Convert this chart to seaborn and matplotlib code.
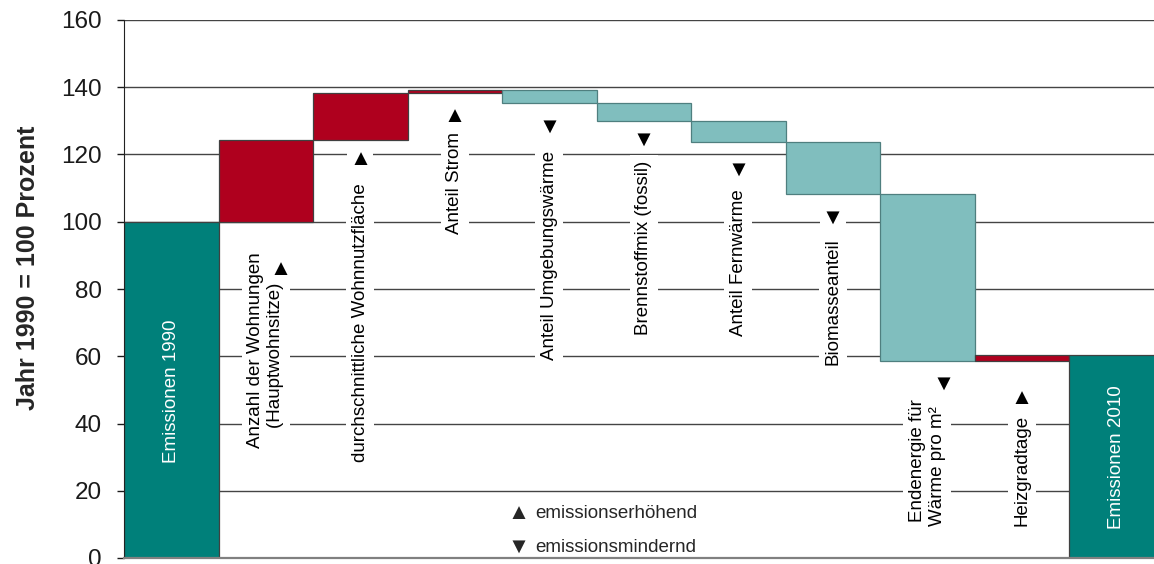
import numpy as np
import pandas as pd
import matplotlib
matplotlib.use("Agg")
import matplotlib.pyplot as plt
import seaborn as sns

# data (index: Jahr 1990 = 100)
categories = ["Emissionen 1990", "Anzahl der Wohnungen", "durchschnittliche Wohnnutzfläche",
              "Anteil Strom", "Anteil Umgebungswärme", "Brennstoffmix (fossil)",
              "Anteil Fernwärme", "Biomasseanteil", "Endenergie für Wärme pro m²",
              "Heizgradtage", "Emissionen 2010"]
bottoms = [0, 100, 124.3, 138.3, 135.4, 130.0, 123.7, 108.3, 58.6, 58.6, 0]
tops = [100, 124.3, 138.3, 139.3, 139.3, 135.4, 130.0, 123.7, 108.3, 60.4, 60.4]
kinds = ["total", "up", "up", "up", "down", "down", "down", "down", "down", "up", "total"]

# rotated labels inside the columns
label_texts = ["Emissionen 1990", "Anzahl der Wohnungen\n(Hauptwohnsitze)  ",
               "durchschnittliche Wohnnutzfläche", "Anteil Strom", "Anteil Umgebungswärme",
               "Brennstoffmix (fossil)", "Anteil Fernwärme", "Biomasseanteil",
               "Endenergie für\nWärme pro m²  ", "Heizgradtage", "Emissionen 2010"]
label_y = [49.7, 61.9, 70.0, 111.5, 90.1, 92.2, 87.7, 76.1, 29.0, 25.9, 30.0]
arrow_x = [None, 1.16, 2.0, 3.0, 4.0, 5.0, 6.0, 7.0, 8.17, 9.0, None]
arrow_y = [None, 85.9, 118.6, 131.4, 128.0, 124.4, 115.2, 101.2, 51.6, 47.5, None]

colors = {"total": "#00807A", "up": "#AF001E", "down": "#80BEBE"}

sns.set_style("white")
plt.rcParams["font.family"] = ["Liberation Sans", "DejaVu Sans"]

df = pd.DataFrame({"Kategorie": categories, "Unten": bottoms, "Oben": tops, "Art": kinds})
df["Hoehe"] = df["Oben"] - df["Unten"]

fig = plt.figure(figsize=(11.54, 5.64), dpi=100)
ax = fig.add_axes([124 / 1154, 6 / 564, 1039.5 / 1154, 538 / 564])

sns.barplot(data=df, x="Kategorie", y="Hoehe", bottom=df["Unten"].to_numpy(),
            width=1.0, errorbar=None, color=colors["total"], saturation=1,
            edgecolor="#404040", linewidth=0.9, ax=ax, zorder=2)
for patch, kind in zip(ax.patches, kinds):
    patch.set_facecolor(colors[kind])
    if kind == "down":
        patch.set_edgecolor("#4f7f7f")

ax.set_xlim(-0.5, 10.5)
ax.set_ylim(0, 160)
ax.set_yticks(range(0, 161, 20))
ax.set_xticks([])
ax.set_xlabel("")
ax.yaxis.grid(True, color="#444444", linewidth=1)
ax.set_axisbelow(True)
ax.tick_params(axis="y", labelsize=17.5, length=5, width=1, pad=11,
               colors="#1a1a1a", left=True)
sns.despine(ax=ax, top=True, right=True)
ax.spines["left"].set_color("#222222")
ax.spines["bottom"].set_color("#808080")
ax.spines["bottom"].set_linewidth(1.6)

ax.set_ylabel("Jahr 1990 = 100 Prozent", fontsize=18, fontweight="bold")
ax.yaxis.set_label_coords(-0.081, 0.539)

box = dict(facecolor="white", edgecolor="none", pad=4)
for i, (txt, y, kind) in enumerate(zip(label_texts, label_y, kinds)):
    if kind == "total":
        ax.text(i, y, txt, rotation=90, ha="center", va="center", fontsize=13.5,
                color="white", zorder=3)
    else:
        ax.text(i, y, txt, rotation=90, ha="center", va="center", fontsize=13.5,
                color="black", multialignment="center", bbox=box, zorder=3)

tri_box = dict(facecolor="white", edgecolor="none", pad=1.5)
for x, y, kind in zip(arrow_x, arrow_y, kinds):
    if x is None:
        continue
    ax.text(x, y, "▲" if kind == "up" else "▼", ha="center", va="center",
            fontsize=16, color="black", bbox=tri_box, zorder=4)

# small legend for the arrow symbols
ax.text(3.67, 13.3, "▲", ha="center", va="center", fontsize=16, zorder=3)
ax.text(3.67, 3.2, "▼", ha="center", va="center", fontsize=16, zorder=3)
ax.text(3.85, 13.1, "emissionserhöhend", ha="left", va="center", fontsize=13.5, zorder=3)
ax.text(3.85, 3.0, "emissionsmindernd", ha="left", va="center", fontsize=13.5, zorder=3)

fig.savefig("out.png", dpi=100)
